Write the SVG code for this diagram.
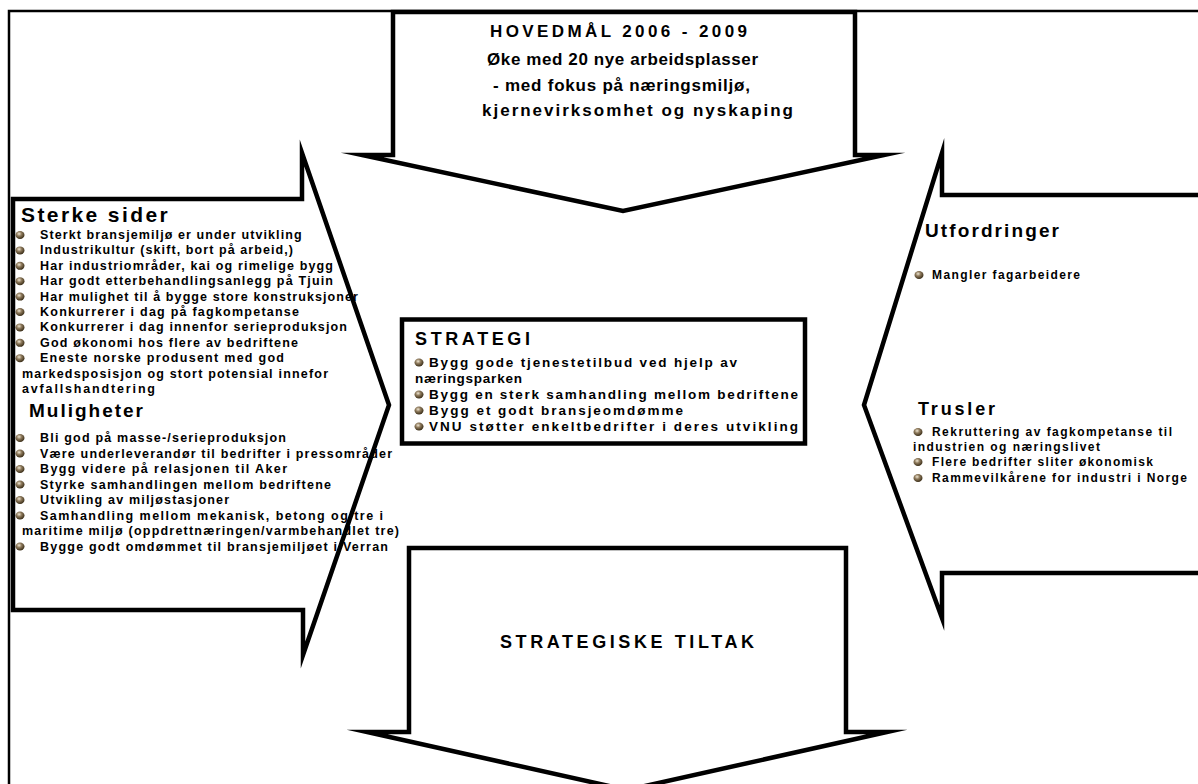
<svg xmlns="http://www.w3.org/2000/svg" width="1198" height="784" viewBox="0 0 1198 784">
<defs>
<radialGradient id="ball" cx="0.4" cy="0.35" r="0.7">
<stop offset="0" stop-color="#efe6d2"/>
<stop offset="0.4" stop-color="#8e7a5c"/>
<stop offset="1" stop-color="#30240f"/>
</radialGradient>
</defs>
<style>
.ol{fill:none;stroke:#000;stroke-width:4.5;stroke-linejoin:miter;stroke-miterlimit:30}
.fr{fill:none;stroke:#000;stroke-width:2.5}
.b{fill:url(#ball)}
text{font-family:"Liberation Sans",Arial,sans-serif;font-weight:bold;fill:#000}
.t{font-size:12.5px}
.s{font-size:13.5px}
.r{font-size:12px}
.h{font-size:17px}
</style>
<rect width="1198" height="784" fill="#fff"/>
<g id="frame"><path class="fr" d="M9,800 V11 H1210"/></g>

<g id="sterke-sider-muligheter">
<text x="21" y="222" font-size="21" letter-spacing="2.4">Sterke sider</text>
<ellipse class="b" cx="20" cy="235" rx="4.5" ry="4"/><text class="t" x="40" y="239" letter-spacing="1.1">Sterkt bransjemiljø er under utvikling</text>
<ellipse class="b" cx="20" cy="250.4" rx="4.5" ry="4"/><text class="t" x="40" y="254.4" textLength="253" lengthAdjust="spacing">Industrikultur (skift, bort på arbeid,)</text>
<ellipse class="b" cx="20" cy="265.8" rx="4.5" ry="4"/><text class="t" x="40" y="269.8" textLength="293" lengthAdjust="spacing">Har industriområder, kai og rimelige bygg</text>
<ellipse class="b" cx="20" cy="281.2" rx="4.5" ry="4"/><text class="t" x="40" y="285.2" textLength="293" lengthAdjust="spacing">Har godt etterbehandlingsanlegg på Tjuin</text>
<ellipse class="b" cx="20" cy="296.6" rx="4.5" ry="4"/><text class="t" x="40" y="300.6" textLength="318" lengthAdjust="spacing">Har mulighet til å bygge store konstruksjoner</text>
<ellipse class="b" cx="20" cy="312" rx="4.5" ry="4"/><text class="t" x="40" y="316" textLength="259" lengthAdjust="spacing">Konkurrerer i dag på fagkompetanse</text>
<ellipse class="b" cx="20" cy="327.4" rx="4.5" ry="4"/><text class="t" x="40" y="331.4" textLength="307" lengthAdjust="spacing">Konkurrerer i dag innenfor serieproduksjon</text>
<ellipse class="b" cx="20" cy="342.8" rx="4.5" ry="4"/><text class="t" x="40" y="346.8" textLength="258" lengthAdjust="spacing">God økonomi hos flere av bedriftene</text>
<ellipse class="b" cx="20" cy="358.2" rx="4.5" ry="4"/><text class="t" x="40" y="362.2" textLength="244" lengthAdjust="spacing">Eneste norske produsent med god</text>
<text class="t" x="22" y="377.6" textLength="306" lengthAdjust="spacing">markedsposisjon og stort potensial innefor</text>
<text class="t" x="22" y="393" textLength="133" lengthAdjust="spacing">avfallshandtering</text>
<text x="29" y="417" font-size="19" textLength="114" lengthAdjust="spacing">Muligheter</text>
<ellipse class="b" cx="20" cy="438" rx="4.5" ry="4"/><text class="t" x="40" y="442" textLength="246" lengthAdjust="spacing">Bli god på masse-/serieproduksjon</text>
<ellipse class="b" cx="20" cy="453.5" rx="4.5" ry="4"/><text class="t" x="40" y="457.5" textLength="352" lengthAdjust="spacing">Være underleverandør til bedrifter i pressområder</text>
<ellipse class="b" cx="20" cy="469" rx="4.5" ry="4"/><text class="t" x="40" y="473" textLength="247" lengthAdjust="spacing">Bygg videre på relasjonen til Aker</text>
<ellipse class="b" cx="20" cy="484.5" rx="4.5" ry="4"/><text class="t" x="40" y="488.5" textLength="291" lengthAdjust="spacing">Styrke samhandlingen mellom bedriftene</text>
<ellipse class="b" cx="20" cy="500" rx="4.5" ry="4"/><text class="t" x="40" y="504" textLength="189" lengthAdjust="spacing">Utvikling av miljøstasjoner</text>
<ellipse class="b" cx="20" cy="515.5" rx="4.5" ry="4"/><text class="t" x="40" y="519.5" textLength="343" lengthAdjust="spacing">Samhandling mellom mekanisk, betong og tre i</text>
<text class="t" x="22" y="535" textLength="377" lengthAdjust="spacing">maritime miljø (oppdrettnæringen/varmbehandlet tre)</text>
<ellipse class="b" cx="20" cy="546.5" rx="4.5" ry="4"/><text class="t" x="40" y="550.5" textLength="348" lengthAdjust="spacing">Bygge godt omdømmet til bransjemiljøet i Verran</text>
<path class="ol" d="M13,199 H302 V153 L389,405 L303,655 V610 H13 Z"/>
</g>

<g id="utfordringer-trusler">
<text x="925" y="237" font-size="19" textLength="134" lengthAdjust="spacing">Utfordringer</text>
<ellipse class="b" cx="919" cy="275" rx="4.5" ry="4"/><text class="r" x="932" y="279" textLength="148" lengthAdjust="spacing">Mangler fagarbeidere</text>
<text x="918" y="415" font-size="18" textLength="77" lengthAdjust="spacing">Trusler</text>
<ellipse class="b" cx="918" cy="432" rx="4.5" ry="4"/><text class="r" x="932" y="436" textLength="240" lengthAdjust="spacing">Rekruttering av fagkompetanse til</text>
<text class="r" x="913" y="451" textLength="187" lengthAdjust="spacing">industrien og næringslivet</text>
<ellipse class="b" cx="918" cy="462" rx="4.5" ry="4"/><text class="r" x="932" y="466" textLength="221" lengthAdjust="spacing">Flere bedrifter sliter økonomisk</text>
<ellipse class="b" cx="918" cy="478" rx="4.5" ry="4"/><text class="r" x="932" y="482" textLength="255" lengthAdjust="spacing">Rammevilkårene for industri i Norge</text>
<path class="ol" d="M1210,195 H942 V153 L864,405 L942,618 V573 H1210"/>
</g>

<g id="hovedmaal">
<path class="ol" d="M393,12 H855 V155 H884 L623,211 L362,155 H393 Z"/>
<text class="h" x="490" y="37" textLength="257" lengthAdjust="spacing">HOVEDMÅL 2006 - 2009</text>
<text class="h" x="487" y="65" textLength="271" lengthAdjust="spacing">Øke med 20 nye arbeidsplasser</text>
<text class="h" x="493" y="91" textLength="257" lengthAdjust="spacing">- med fokus på næringsmiljø,</text>
<text class="h" x="482" y="116" textLength="311" lengthAdjust="spacing">kjernevirksomhet og nyskaping</text>
</g>

<g id="strategi">
<rect class="ol" x="402" y="319.5" width="403" height="124"/>
<text x="415" y="345" font-size="18" textLength="115" lengthAdjust="spacing">STRATEGI</text>
<ellipse class="b" cx="419" cy="362.5" rx="4.5" ry="4"/><text class="s" x="429" y="367" textLength="308" lengthAdjust="spacing">Bygg gode tjenestetilbud ved hjelp av</text>
<text class="s" x="415" y="383" textLength="107" lengthAdjust="spacing">næringsparken</text>
<ellipse class="b" cx="419" cy="394.5" rx="4.5" ry="4"/><text class="s" x="429" y="399" textLength="369" lengthAdjust="spacing">Bygg en sterk samhandling mellom bedriftene</text>
<ellipse class="b" cx="419" cy="410.5" rx="4.5" ry="4"/><text class="s" x="429" y="415" textLength="254" lengthAdjust="spacing">Bygg et godt bransjeomdømme</text>
<ellipse class="b" cx="419" cy="426.5" rx="4.5" ry="4"/><text class="s" x="429" y="431" textLength="369" lengthAdjust="spacing">VNU støtter enkeltbedrifter i deres utvikling</text>
</g>

<g id="strategiske-tiltak">
<path class="ol" d="M409,548 H846 V732 H887 L627,790 L367,732 H409 Z"/>
<text x="500" y="648" font-size="18" textLength="254" lengthAdjust="spacing">STRATEGISKE TILTAK</text>
</g>

<g id="connectors"></g>
</svg>
